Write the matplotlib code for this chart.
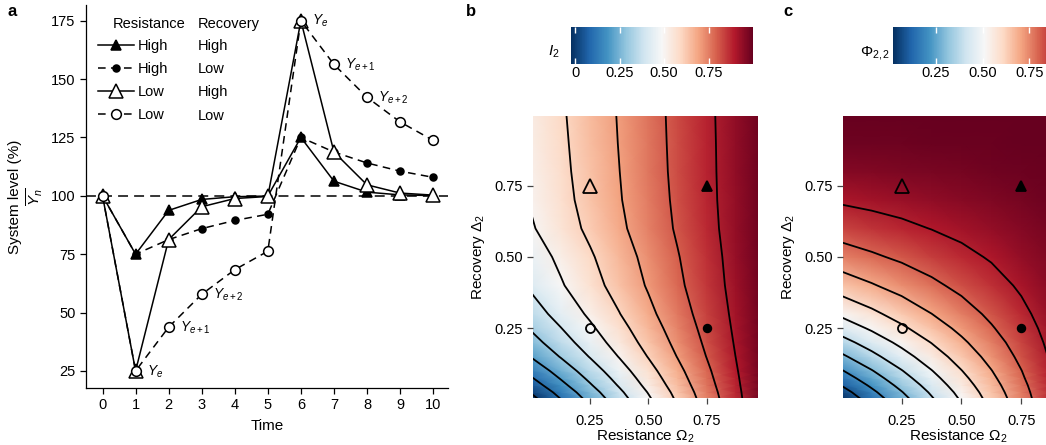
import numpy as np
import matplotlib
matplotlib.use("Agg")
import matplotlib.pyplot as plt
from matplotlib.lines import Line2D

# ==========================================================
# Fonts
# ==========================================================

plt.rcParams["font.family"] = ["Liberation Sans", "DejaVu Sans"]
plt.rcParams["mathtext.fontset"] = "custom"
plt.rcParams["mathtext.rm"] = "Liberation Sans"
plt.rcParams["mathtext.it"] = "Liberation Sans:italic"
plt.rcParams["mathtext.bf"] = "Liberation Sans:bold"
plt.rcParams["font.size"] = 10

# ==========================================================
# Data : panel a (system level over time)
# ==========================================================

time = [0, 1, 2, 3, 4, 5, 6, 7, 8, 9, 10]

high_high = [100, 75, 93.75, 98.44, 99.61, 99.90, 125, 106.25, 101.56, 100.39, 100.10]
high_low = [100, 75, 81.25, 85.94, 89.45, 92.09, 125, 118.75, 114.06, 110.55, 107.91]
low_high = [100, 25, 81.25, 95.31, 98.83, 99.71, 175, 118.75, 104.69, 101.17, 100.29]
low_low = [100, 25, 43.75, 57.81, 68.36, 76.27, 175, 156.25, 142.19, 131.64, 123.73]

resistance_labels = ["High", "High", "Low", "Low"]
recovery_labels = ["High", "Low", "High", "Low"]

# time steps of the low/low series that get a Y label
label_times = [1, 2, 3, 6, 7, 8]
label_texts = [r"$Y_e$", r"$Y_{e+1}$", r"$Y_{e+2}$",
               r"$Y_e$", r"$Y_{e+1}$", r"$Y_{e+2}$"]

y_ticks_a = [25, 50, 75, 100, 125, 150, 175]

# ==========================================================
# Data : panels b and c
# ==========================================================

omega_grid = [0, 0.125, 0.25, 0.375, 0.5, 0.625, 0.75, 0.875, 1.0]
delta_grid = [0, 0.025, 0.05, 0.075, 0.1, 0.15, 0.2, 0.25, 0.3,
              0.4, 0.5, 0.6, 0.7, 0.8, 0.9, 1.0]

i2_values = [
    [-0.030, 0.099, 0.228, 0.356, 0.485, 0.614, 0.743, 0.871, 1.0],
    [0.010, 0.134, 0.258, 0.381, 0.505, 0.629, 0.753, 0.876, 1.0],
    [0.055, 0.173, 0.291, 0.409, 0.528, 0.646, 0.764, 0.882, 1.0],
    [0.095, 0.208, 0.321, 0.434, 0.548, 0.661, 0.774, 0.887, 1.0],
    [0.133, 0.241, 0.350, 0.458, 0.567, 0.675, 0.783, 0.892, 1.0],
    [0.207, 0.306, 0.405, 0.504, 0.604, 0.703, 0.802, 0.901, 1.0],
    [0.265, 0.357, 0.449, 0.541, 0.633, 0.724, 0.816, 0.908, 1.0],
    [0.312, 0.398, 0.484, 0.570, 0.656, 0.742, 0.828, 0.914, 1.0],
    [0.355, 0.436, 0.516, 0.597, 0.678, 0.758, 0.839, 0.919, 1.0],
    [0.418, 0.491, 0.564, 0.636, 0.709, 0.782, 0.855, 0.927, 1.0],
    [0.452, 0.521, 0.589, 0.658, 0.726, 0.795, 0.863, 0.932, 1.0],
    [0.492, 0.556, 0.619, 0.683, 0.746, 0.810, 0.873, 0.937, 1.0],
    [0.510, 0.571, 0.633, 0.694, 0.755, 0.816, 0.878, 0.939, 1.0],
    [0.519, 0.579, 0.639, 0.699, 0.760, 0.820, 0.880, 0.940, 1.0],
    [0.525, 0.584, 0.644, 0.703, 0.763, 0.822, 0.881, 0.941, 1.0],
    [0.530, 0.589, 0.648, 0.706, 0.765, 0.824, 0.883, 0.941, 1.0],
]

phi_values = [
    [0.020, 0.143, 0.265, 0.388, 0.510, 0.633, 0.755, 0.878, 1.0],
    [0.060, 0.178, 0.295, 0.413, 0.530, 0.648, 0.765, 0.883, 1.0],
    [0.105, 0.217, 0.329, 0.441, 0.553, 0.664, 0.776, 0.888, 1.0],
    [0.150, 0.256, 0.363, 0.469, 0.575, 0.681, 0.788, 0.894, 1.0],
    [0.193, 0.294, 0.395, 0.496, 0.597, 0.697, 0.798, 0.899, 1.0],
    [0.282, 0.372, 0.462, 0.551, 0.641, 0.731, 0.821, 0.910, 1.0],
    [0.365, 0.444, 0.524, 0.603, 0.683, 0.762, 0.841, 0.921, 1.0],
    [0.445, 0.514, 0.584, 0.653, 0.723, 0.792, 0.861, 0.931, 1.0],
    [0.518, 0.578, 0.639, 0.699, 0.759, 0.819, 0.880, 0.940, 1.0],
    [0.648, 0.692, 0.736, 0.780, 0.824, 0.868, 0.912, 0.956, 1.0],
    [0.755, 0.786, 0.816, 0.847, 0.878, 0.908, 0.939, 0.969, 1.0],
    [0.843, 0.863, 0.882, 0.902, 0.922, 0.941, 0.961, 0.980, 1.0],
    [0.911, 0.922, 0.933, 0.944, 0.956, 0.967, 0.978, 0.989, 1.0],
    [0.960, 0.965, 0.970, 0.975, 0.980, 0.985, 0.990, 0.995, 1.0],
    [0.989, 0.990, 0.992, 0.993, 0.995, 0.996, 0.997, 0.999, 1.0],
    [0.998, 0.998, 0.999, 0.999, 0.999, 0.999, 1.000, 1.000, 1.0],
]

i2_levels = [0.0, 0.1, 0.2, 0.3, 0.4, 0.5, 0.6, 0.7, 0.8, 0.9]
phi_levels = [0.1, 0.2, 0.3, 0.4, 0.5, 0.6, 0.7, 0.8, 0.9]

# the four example systems of panel a, placed in (resistance, recovery)
example_omega = [0.75, 0.75, 0.25, 0.25]
example_delta = [0.75, 0.25, 0.75, 0.25]

heat_ticks = [0.25, 0.50, 0.75]
heat_tick_labels = ["0.25", "0.50", "0.75"]

cbar_ticks_b = [0, 0.25, 0.50, 0.75]
cbar_labels_b = ["0", "0.25", "0.50", "0.75"]
cbar_ticks_c = [0.25, 0.50, 0.75]
cbar_labels_c = ["0.25", "0.50", "0.75"]

# ==========================================================
# Figure layout (pixel boxes -> figure fractions)
# ==========================================================

W, H = 1046, 445
fig = plt.figure(figsize=(W / 100, H / 100), dpi=100)


def px_box(left, top, right, bottom):
    return [left / W, 1 - bottom / H, (right - left) / W, (bottom - top) / H]


ax_a = fig.add_axes(px_box(86, 5, 448, 388))
ax_b = fig.add_axes(px_box(533, 116, 758, 398))
ax_c = fig.add_axes(px_box(843, 116, 1074, 398))
cax_b = fig.add_axes(px_box(571, 27, 753, 64))
cax_c = fig.add_axes(px_box(893, 27, 1076, 64))

# styles: line style, marker, face colour, marker size
styles = [
    ("-", "^", "black", 7),
    ((0, (5, 3.5)), "o", "black", 5),
    ("-", "^", "white", 10.5),
    ((0, (5, 3.5)), "o", "white", 7),
]
series = [high_high, high_low, low_high, low_low]

# ==========================================================
# Panel a
# ==========================================================

ax_a.axhline(100, color="black", lw=1.1, ls=(0, (6.5, 4)), zorder=1)

draw_order = [2, 3, 1, 0]
for i in draw_order:
    ls, mk, fc, ms = styles[i]
    ax_a.plot(time, series[i], color="black", lw=1.1, ls=ls,
              marker=mk, ms=ms, mfc=fc, mec="black", mew=1.1,
              zorder=2 + i)

for t, txt in zip(label_times, label_texts):
    ax_a.annotate(txt, xy=(t, low_low[t]), xytext=(8, -3),
                  textcoords="offset points", ha="left", va="baseline",
                  fontsize=10)

ax_a.set_xlim(-0.5, 10.45)
ax_a.set_ylim(17.7, 181.7)
ax_a.set_xticks(time)
ax_a.set_yticks(y_ticks_a)
ax_a.tick_params(length=4.5, width=0.9, labelsize=10.5, pad=3)
for side in ["top", "right"]:
    ax_a.spines[side].set_visible(False)
for side in ["left", "bottom"]:
    ax_a.spines[side].set_linewidth(0.9)

ax_a.set_xlabel("Time", fontsize=11, labelpad=5)
ax_a.set_ylabel("System level (%)\n" + r"$\overline{Y_n}$",
                fontsize=11, labelpad=4)

# legend: handles + resistance column
handles = []
for ls, mk, fc, ms in styles:
    handles.append(Line2D([], [], color="black", lw=1.1, ls=ls, marker=mk,
                          ms=ms, mfc=fc, mec="black", mew=1.1))

ax_a.legend(handles, resistance_labels, loc="upper left",
            bbox_to_anchor=(0.033, 0.91), frameon=False,
            borderpad=0, borderaxespad=0, handlelength=2.45,
            handletextpad=0.3, labelspacing=0.61, fontsize=10.5)

# headers and the recovery column (axes fractions)
row_y = [0.893, 0.832, 0.772, 0.711]
header_y = 0.9496
ax_a.text(0.0746, header_y, "Resistance", transform=ax_a.transAxes,
          ha="left", va="center", fontsize=10.5)
ax_a.text(0.309, header_y, "Recovery", transform=ax_a.transAxes,
          ha="left", va="center", fontsize=10.5)
for y, rec in zip(row_y, recovery_labels):
    ax_a.text(0.309, y, rec, transform=ax_a.transAxes,
              ha="left", va="center", fontsize=10.5)

# ==========================================================
# Panels b and c
# ==========================================================

panels = [
    (ax_b, cax_b, i2_values, i2_levels, -0.024, 1.0,
     cbar_ticks_b, cbar_labels_b, r"$I_2$", -0.06, 0.34),
    (ax_c, cax_c, phi_values, phi_levels, 0.02, 1.0,
     cbar_ticks_c, cbar_labels_c, r"$\Phi_{2,2}$", -0.016, 0.31),
]

for (ax, cax, values, levels, vmin, vmax, cticks, clabels,
     clab, cx, cy) in panels:
    z = np.array(values)
    mesh = ax.pcolormesh(omega_grid, delta_grid, z, shading="gouraud",
                         cmap="RdBu_r", vmin=vmin, vmax=vmax)
    ax.contour(omega_grid, delta_grid, z, levels=levels,
               colors="black", linewidths=1.3)

    for i in range(4):
        ls, mk, fc, ms = styles[i]
        ms_heat = [7, 5.5, 10, 6.5][i]
        ax.plot(example_omega[i], example_delta[i], ls="none", marker=mk,
                ms=ms_heat, mfc="none" if fc == "white" else "black",
                mec="black", mew=1.3, zorder=5)

    ax.set_xlim(0.005, 0.97)
    ax.set_ylim(0.005, 0.995)
    ax.set_xticks(heat_ticks)
    ax.set_xticklabels(heat_tick_labels)
    ax.set_yticks(heat_ticks)
    ax.set_yticklabels(heat_tick_labels)
    ax.tick_params(length=4.5, width=0.9, color="#444444",
                   labelsize=10.5, pad=3)
    ax.tick_params(axis="x", pad=7)
    for side in ax.spines:
        ax.spines[side].set_visible(False)
    ax.set_xlabel(r"Resistance $\Omega_2$", fontsize=11, labelpad=0)
    ax.set_ylabel(r"Recovery $\Delta_2$", fontsize=11, labelpad=5)

    cb = fig.colorbar(mesh, cax=cax, orientation="horizontal", ticks=cticks)
    cb.set_ticklabels(clabels)
    cb.outline.set_visible(False)
    cax.tick_params(axis="x", direction="in", color="white", length=4,
                    width=1, top=True, bottom=True, labelcolor="black",
                    labelsize=10.5, pad=1.5)
    cax.text(cx, cy, clab, transform=cax.transAxes, ha="right",
             va="center", fontsize=11)

# ==========================================================
# Panel letters
# ==========================================================

for x_px, letter in [(7, "a"), (466, "b"), (783, "c")]:
    fig.text(x_px / W, 1 - 4 / H, letter, ha="left", va="top",
             fontsize=12, fontweight="bold")

fig.savefig("out.png", dpi=100)
